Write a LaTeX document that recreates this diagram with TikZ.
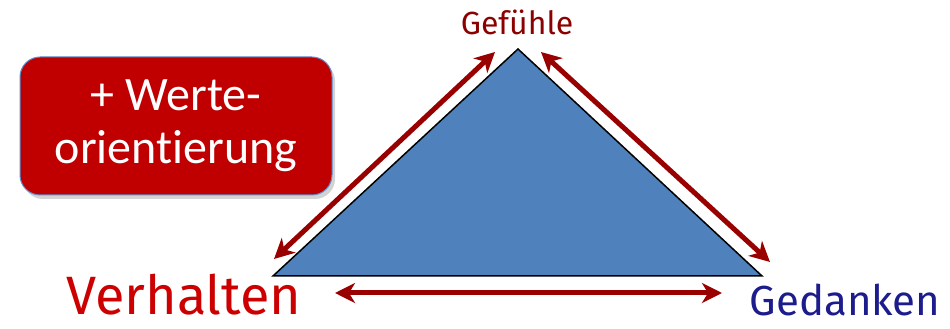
\documentclass[tikz,border=0pt]{standalone}
\usepackage{fontspec}
\setmainfont{Carlito}[RawFeature=-liga]
\newfontfamily\labelfont{Fira Sans}
\usetikzlibrary{arrows.meta,shadows}
\definecolor{arrowred}{HTML}{990000}
\definecolor{boxred}{HTML}{C00000}
\definecolor{boxedge}{HTML}{5B8FD0}
\definecolor{triblue}{HTML}{4F81BD}
\definecolor{verhred}{HTML}{CC0000}
\definecolor{gefred}{HTML}{8B0000}
\definecolor{gednavy}{HTML}{1C1C8C}
\begin{document}
\begin{tikzpicture}[x=1pt,y=1pt,
  dbl/.style={arrowred, line width=5pt,
    {Stealth[length=20pt,width=20pt,inset=6pt]}-{Stealth[length=20pt,width=20pt,inset=6pt]}},
  wertbox/.style={draw=boxedge, line width=1pt, fill=boxred, rounded corners=20pt,
    minimum width=312pt, minimum height=138pt, text=white, align=center,
    font=\fontsize{48}{53}\selectfont,
    drop shadow={shadow xshift=3pt, shadow yshift=-4pt, opacity=0.35}},
  lbl/.style={inner sep=0pt, anchor=base}]
\useasboundingbox (0,0) rectangle (950,329);
% triangle
\coordinate (top) at (518,280);
\coordinate (bl) at (273,53);
\coordinate (br) at (762,53);
\draw[fill=triblue, line width=1.5pt, line join=miter] (top) -- (bl) -- (br) -- cycle;
% arrow end points
\coordinate (l1) at (495,277);
\coordinate (l2) at (274,70);
\coordinate (r1) at (541,277);
\coordinate (r2) at (770,67);
\coordinate (b1) at (335,36);
\coordinate (b2) at (722,36);
\draw[dbl] (l1) -- (l2);
\draw[dbl] (r1) -- (r2);
\draw[dbl] (b1) -- (b2);
% box
\node[wertbox] (wert) at (176,203) {+ Werte-\\orientierung};
% labels
\node[lbl, text=gefred, font=\labelfont\fontsize{32}{34}\selectfont] (gef) at (517,294) {Gefühle};
\node[lbl, text=verhred, font=\labelfont\fontsize{54}{58}\selectfont] (verh) at (184,14) {Verhalten};
\node[lbl, text=gednavy, font=\labelfont\fontsize{42}{44}\selectfont] (ged) at (845,13) {Gedanken};
\end{tikzpicture}
\end{document}
